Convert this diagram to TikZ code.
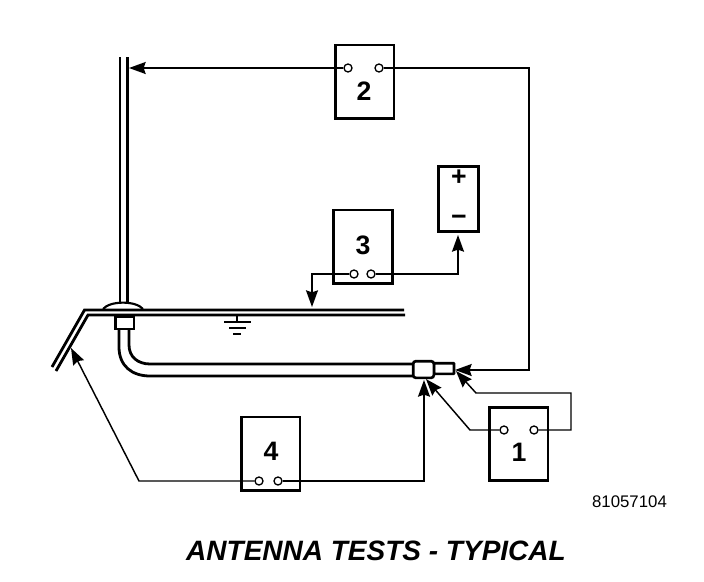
\documentclass[tikz,border=0pt]{standalone}
\usepackage{fontspec}
\setmainfont{Liberation Sans}
\usetikzlibrary{arrows.meta}

\tikzset{
  unit/.style={draw,line width=2pt,fill=white,minimum width=44pt,minimum height=55pt,inner sep=0pt,outer sep=0pt},
  term/.style={circle,draw,line width=1pt,fill=white,minimum size=6pt,inner sep=0pt},
  num/.style={font=\bfseries\fontsize{20}{20}\selectfont,inner sep=0pt},
  wire/.style={line width=1.1pt,-{Stealth[length=12.5pt,width=9pt,inset=1.5pt]}},
  body/.style={line width=2.1pt},
}

\begin{document}
\begin{tikzpicture}[x=0.75pt,y=-0.75pt]
  \useasboundingbox (0,0) rectangle (704,582);

  % Antenna mast and fender
  \draw[body] (120,57) -- (120,303);
  \draw[body] (127.5,57) -- (127.5,303);
  \draw[body] (404,310) -- (84.5,310) -- (52,367);
  \draw[body] (405,315) -- (88,315) -- (56,371);
  \draw[line width=1.6pt] (103,309) .. controls (110,300.5) and (136,300.5) .. (143,309);

  % Cable
  \draw[body] (119,328) -- (119,347) .. controls (119,366) and (132,376) .. (150,376) -- (414,376);
  \draw[body] (129,328) -- (129,345) .. controls (129,357) and (138,364) .. (150,364) -- (414,364);
  \node[draw,line width=2pt,fill=white,minimum width=14pt,minimum height=9.5pt,inner sep=0pt] at(124.5,322.5)(base){};
  \node[draw,line width=2pt,fill=white,minimum width=15pt,minimum height=8pt,inner sep=0pt,rounded corners=0.5pt] at(444,368.5)(plug){};
  \node[draw,line width=2pt,fill=white,minimum width=15.5pt,minimum height=12.5pt,inner sep=0pt,rounded corners=2pt] at(423.5,369.5)(jack){};

  % Ground
  \draw[line width=1pt] (237,316) -- (237,322);
  \draw[line width=1.2pt] (224,322) -- (251,322);
  \draw[line width=1.2pt] (229,328) -- (246,328);
  \draw[line width=1.2pt] (233,334) -- (241,334);

  % Nodes
  \node[unit] at(518.5,444)(box1){};
  \node[unit] at(364.5,81.5)(box2){};
  \node[unit] at(363,246.5)(box3){};
  \node[unit] at(270.5,453.5)(box4){};
  \node[draw,line width=2pt,fill=white,minimum width=30pt,minimum height=49pt,inner sep=0pt,outer sep=0pt] at(458.5,199)(batt){};

  \node[num] at(519,452)(n1){1};
  \node[num] at(364,91)(n2){2};
  \node[num] at(363,245)(n3){3};
  \node[num] at(271,451)(n4){4};
  \node[num] at(459,178)(plus){+};
  \node[num] at(459,220)(minus){−};

  \node[term] at(504,430)(t1a){};
  \node[term] at(534,430)(t1b){};
  \node[term] at(348,68)(t2a){};
  \node[term] at(379,68)(t2b){};
  \node[term] at(354,274)(t3a){};
  \node[term] at(371,274)(t3b){};
  \node[term] at(259,481)(t4a){};
  \node[term] at(278,481)(t4b){};

  % Connection ends
  \coordinate (mast) at (129,68);
  \coordinate (plugend) at (455,370);
  \coordinate (plugend2) at (456,371);
  \coordinate (jackend) at (426,379);
  \coordinate (jackend2) at (424,380);
  \coordinate (fender) at (71,348);
  \coordinate (roof) at (312,307);
  \coordinate (battend) at (458,235);

  % Wires
  \draw[wire] (t2a) -- (mast);
  \draw[wire] (t2b) -- (529,68) -- (529,370) -- (plugend);
  \draw[wire] (t1a) -- (470,430) -- (jackend);
  \draw[wire] (t1b) -- (571,430) -- (571,393) -- (476,393) -- (plugend2);
  \draw[wire] (t3a) -- (312,274) -- (roof);
  \draw[wire] (t3b) -- (458,274) -- (battend);
  \draw[wire] (t4b) -- (424,481) -- (jackend2);
  \draw[wire] (t4a) -- (139,481) -- (fender);

  % Texts
  \node[font=\fontsize{12.6}{14}\selectfont,inner sep=0pt] at(629.5,502)(code){81057104};
  \node[font=\bfseries\itshape\fontsize{21}{23}\selectfont,inner sep=0pt] at(376,551)(title){ANTENNA TESTS - TYPICAL};
\end{tikzpicture}
\end{document}
